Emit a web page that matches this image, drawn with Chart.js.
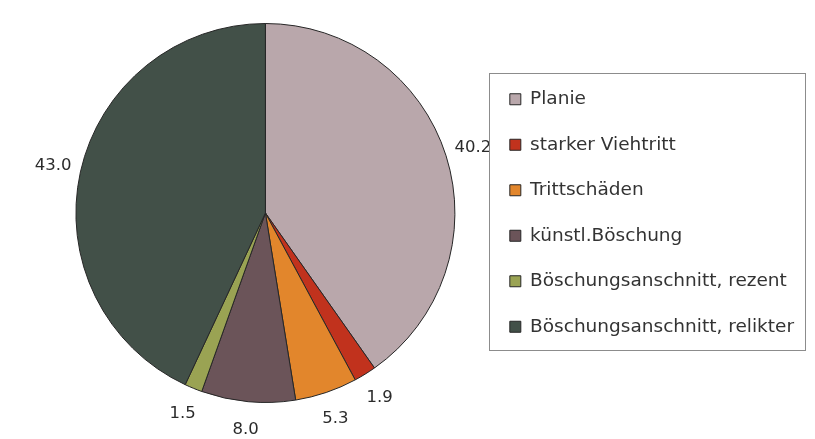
<!DOCTYPE html>
<html>
<head>
<meta charset="utf-8">
<script src="https://cdn.jsdelivr.net/npm/chart.js@4/dist/chart.umd.min.js"></script>
<style>
  html, body { margin: 0; padding: 0; background: #fff; }
  #wrap { width: 815px; height: 439px; }
</style>
</head>
<body>
<div id="wrap"><canvas id="pieChart"></canvas></div>
<script>
// data
var categories = ['Planie', 'starker Viehtritt', 'Trittschäden', 'künstl.Böschung',
                  'Böschungsanschnitt, rezent', 'Böschungsanschnitt, relikter'];
var shares     = [40.2, 1.9, 5.3, 8.0, 1.5, 43.0];
var colors     = ['#b9a7ab', '#c1321d', '#e2862c', '#6b5459', '#9aa353', '#425048'];

var FONT = "'DejaVu Sans', sans-serif";

// value labels outside the slices
var outsideLabels = {
  id: 'outsideLabels',
  afterDatasetsDraw: function (chart) {
    var ctx = chart.ctx;
    var meta = chart.getDatasetMeta(0);
    ctx.save();
    ctx.font = '16.5px ' + FONT;
    ctx.fillStyle = '#2b2b2b';
    ctx.textAlign = 'center';
    ctx.textBaseline = 'middle';
    meta.data.forEach(function (arc, i) {
      var mid = (arc.startAngle + arc.endAngle) / 2;
      var r = arc.outerRadius + 28;
      ctx.fillText(shares[i].toFixed(1), arc.x + Math.cos(mid) * r, arc.y + Math.sin(mid) * r);
    });
    ctx.restore();
  }
};

// frame round the legend
var legendFrame = {
  id: 'legendFrame',
  afterDraw: function (chart) {
    var lg = chart.legend;
    if (!lg || !lg.legendHitBoxes.length) return;
    var boxes = lg.legendHitBoxes;
    var last = boxes[boxes.length - 1];
    var top = boxes[0].top - 17;
    var bottom = last.top + last.height + 14;
    var ctx = chart.ctx;
    ctx.save();
    ctx.strokeStyle = '#8c8c8c';
    ctx.lineWidth = 1;
    ctx.strokeRect(Math.round(lg.left) + 6.5, Math.round(top) + 0.5,
                   Math.round(lg.right - lg.left) - 5, Math.round(bottom - top));
    ctx.restore();
  }
};

var pieChart = new Chart(document.getElementById('pieChart'), {
  type: 'pie',
  data: {
    labels: categories,
    datasets: [{
      data: shares,
      backgroundColor: colors,
      borderColor: '#262626',
      borderWidth: 1
    }]
  },
  options: {
    responsive: true,
    maintainAspectRatio: false,
    animation: false,
    layout: { padding: { left: 48, right: 11, top: 23, bottom: 36 } },
    plugins: {
      tooltip: { enabled: false },
      legend: {
        position: 'right',
        align: 'center',
        labels: {
          font: { family: FONT, size: 18.5 },
          color: '#333',
          boxWidth: 11,
          boxHeight: 11,
          padding: 27
        }
      }
    }
  },
  plugins: [outsideLabels, legendFrame]
});
</script>
</body>
</html>
